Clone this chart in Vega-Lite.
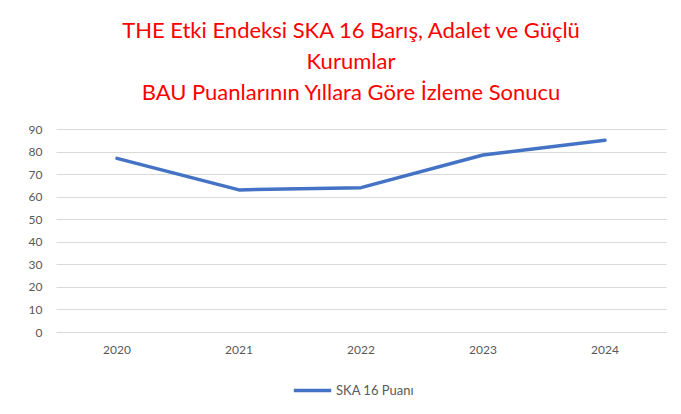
{
  "$schema": "https://vega.github.io/schema/vega-lite/v6.json",
  "autosize": "none",
  "width": 610,
  "height": 203,
  "padding": {"left": 56, "top": 129, "right": 15, "bottom": 82},
  "background": "white",
  "title": {
    "text": ["THE Etki Endeksi SKA 16 Barış, Adalet ve Güçlü", "Kurumlar", "BAU Puanlarının Yıllara Göre İzleme Sonucu"],
    "color": "#FF0000",
    "font": "Lato",
    "fontSize": 22,
    "fontWeight": "normal",
    "lineHeight": 31,
    "anchor": "middle",
    "offset": 18,
    "dx": -10
  },
  "data": {
    "values": [
      {"year": "2020", "value": 77, "series": "SKA 16 Puanı"},
      {"year": "2021", "value": 63, "series": "SKA 16 Puanı"},
      {"year": "2022", "value": 64, "series": "SKA 16 Puanı"},
      {"year": "2023", "value": 78.5, "series": "SKA 16 Puanı"},
      {"year": "2024", "value": 85, "series": "SKA 16 Puanı"}
    ]
  },
  "mark": {"type": "line", "strokeWidth": 3.5, "strokeCap": "round", "strokeJoin": "round"},
  "encoding": {
    "x": {
      "field": "year", "type": "ordinal",
      "scale": {"type": "band", "paddingInner": 0, "paddingOuter": 0},
      "axis": {"title": null, "labelAngle": 0, "ticks": false, "domain": false, "labelPadding": 12, "labelFontSize": 12, "labelFont": "Lato", "labelColor": "#595959"}
    },
    "y": {
      "field": "value", "type": "quantitative",
      "scale": {"domain": [0, 90], "nice": false},
      "axis": {"title": null, "values": [0,10,20,30,40,50,60,70,80,90], "ticks": false, "domain": false, "labelPadding": 14, "labelFontSize": 12, "labelFont": "Lato", "labelColor": "#595959", "gridColor": "#d9d9d9", "gridWidth": 1}
    },
    "color": {
      "field": "series", "type": "nominal",
      "scale": {"range": ["#4472C4"]},
      "legend": {"title": null, "orient": "none", "legendX": 236, "legendY": 241, "symbolType": "stroke", "symbolStrokeWidth": 3.5, "symbolSize": 1400, "labelFontSize": 13, "labelFont": "Lato", "labelColor": "#595959", "labelOffset": 3}
    }
  },
  "config": {"view": {"stroke": null}}
}
